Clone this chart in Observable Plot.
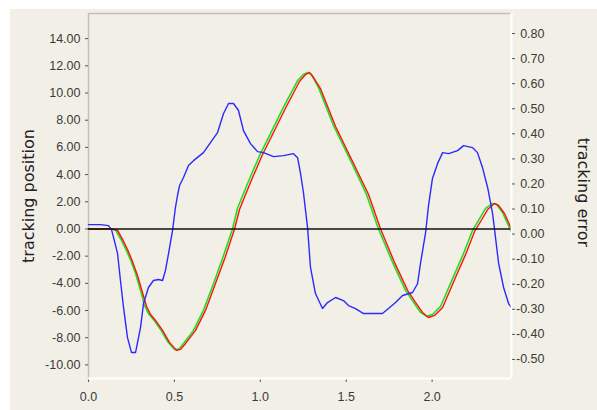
<!DOCTYPE html>
<html>
<head>
<meta charset="utf-8">
<script src="https://cdn.jsdelivr.net/npm/d3@7"></script>
<script src="https://cdn.jsdelivr.net/npm/@observablehq/plot@0.6"></script>
<style>
  html, body { margin: 0; padding: 0; background: #ffffff; }
  #chart { position: absolute; left: 10px; top: 9px; width: 587px; height: 401px; background: #f2efe7; overflow: hidden; }
</style>
</head>
<body>
<div id="chart"></div>
<script>
// ---- tick values ----
const xTicks = [0, 0.5, 1.0, 1.5, 2.0];
const leftTicks = [-10, -8, -6, -4, -2, 0, 2, 4, 6, 8, 10, 12, 14];
const rightTicks = [-0.5, -0.4, -0.3, -0.2, -0.1, 0, 0.1, 0.2, 0.3, 0.4, 0.5, 0.6, 0.7, 0.8];

// ---- reference position (green) ----
const timeRef = [0, 0.128, 0.157, 0.186, 0.215, 0.244, 0.274, 0.303, 0.326, 0.349, 0.378, 0.419, 0.460, 0.501, 0.524, 0.553, 0.611, 0.669, 0.728, 0.786, 0.838, 0.867, 0.902, 0.943, 1.001, 1.059, 1.135, 1.217, 1.251, 1.275, 1.298, 1.339, 1.426, 1.525, 1.618, 1.688, 1.770, 1.845, 1.892, 1.933, 1.968, 2.002, 2.049, 2.125, 2.183, 2.235, 2.270, 2.311, 2.352, 2.375, 2.410, 2.462];
const posRef = [0, 0, -0.07, -0.70, -1.43, -2.24, -3.27, -4.52, -5.62, -6.21, -6.65, -7.39, -8.27, -8.86, -8.86, -8.42, -7.46, -5.99, -4.01, -1.95, 0, 1.51, 2.61, 3.86, 5.55, 7.02, 8.97, 10.92, 11.36, 11.51, 11.36, 10.40, 7.61, 5.04, 2.54, 0, -2.46, -4.52, -5.40, -6.14, -6.43, -6.29, -5.70, -3.49, -1.80, -0.11, 0.63, 1.51, 1.88, 1.80, 1.21, -0.26];

// ---- actual position (red) ----
const timeAct = [0, 0.140, 0.169, 0.198, 0.227, 0.256, 0.285, 0.314, 0.338, 0.361, 0.390, 0.431, 0.471, 0.512, 0.536, 0.565, 0.623, 0.681, 0.739, 0.797, 0.850, 0.879, 0.914, 0.955, 1.013, 1.071, 1.147, 1.228, 1.263, 1.286, 1.310, 1.350, 1.438, 1.537, 1.630, 1.700, 1.781, 1.857, 1.903, 1.944, 1.979, 2.014, 2.061, 2.136, 2.195, 2.247, 2.282, 2.323, 2.363, 2.387, 2.421, 2.462];
const posAct = [0, 0, -0.11, -0.77, -1.51, -2.39, -3.42, -4.67, -5.70, -6.29, -6.73, -7.46, -8.34, -8.93, -8.86, -8.42, -7.46, -5.99, -4.01, -2.02, 0, 1.43, 2.54, 3.79, 5.48, 6.95, 8.90, 10.85, 11.36, 11.51, 11.14, 10.33, 7.54, 4.96, 2.54, 0, -2.46, -4.52, -5.40, -6.14, -6.51, -6.36, -5.77, -3.57, -1.87, -0.18, 0.55, 1.43, 1.88, 1.73, 1.14, 0];

// ---- tracking error (blue, right axis) ----
const timeErr = [0, 0.070, 0.116, 0.134, 0.146, 0.169, 0.186, 0.204, 0.227, 0.250, 0.274, 0.303, 0.320, 0.349, 0.378, 0.407, 0.431, 0.448, 0.466, 0.489, 0.506, 0.518, 0.530, 0.553, 0.582, 0.611, 0.669, 0.710, 0.751, 0.786, 0.815, 0.844, 0.873, 0.902, 0.943, 0.984, 1.019, 1.077, 1.135, 1.193, 1.217, 1.234, 1.251, 1.275, 1.292, 1.321, 1.362, 1.391, 1.438, 1.484, 1.513, 1.554, 1.601, 1.711, 1.746, 1.787, 1.828, 1.886, 1.915, 1.933, 1.962, 1.979, 2.002, 2.032, 2.061, 2.096, 2.148, 2.183, 2.235, 2.264, 2.293, 2.323, 2.352, 2.369, 2.387, 2.416, 2.445, 2.462];
const errVals = [0.038, 0.038, 0.034, 0.018, -0.014, -0.077, -0.185, -0.293, -0.413, -0.472, -0.472, -0.372, -0.277, -0.213, -0.185, -0.181, -0.185, -0.145, -0.077, 0.014, 0.106, 0.154, 0.194, 0.226, 0.274, 0.293, 0.325, 0.365, 0.405, 0.481, 0.521, 0.521, 0.493, 0.413, 0.361, 0.329, 0.325, 0.309, 0.313, 0.321, 0.305, 0.242, 0.166, 0.026, -0.133, -0.237, -0.297, -0.273, -0.253, -0.265, -0.285, -0.297, -0.317, -0.317, -0.297, -0.273, -0.245, -0.233, -0.198, -0.114, 0.006, 0.114, 0.222, 0.282, 0.325, 0.321, 0.333, 0.353, 0.345, 0.325, 0.266, 0.186, 0.082, -0.014, -0.117, -0.213, -0.277, -0.293];

// ---- scales ----
const xDomain = [0, 2.462];
const leftDomain = [-11, 15.85];
const rightDomain = [-0.576, 0.88];
const toLeft = e => leftDomain[0] + (e - rightDomain[0]) / (rightDomain[1] - rightDomain[0]) * (leftDomain[1] - leftDomain[0]);
const rightLabel = new Map(rightTicks.map(t => [toLeft(t), t.toFixed(2)]));

const tickFont = "'Liberation Sans', Arial, sans-serif";
const labelFont = "'DejaVu Sans', Verdana, sans-serif";

const chart = Plot.plot({
  width: 587,
  height: 401,
  marginLeft: 78,
  marginRight: 86,
  marginTop: 4,
  marginBottom: 32,
  style: { background: "transparent", fontFamily: tickFont, fontSize: "12.5px", color: "#3a3a3a", overflow: "visible" },
  x: { domain: xDomain },
  y: { domain: leftDomain },
  marks: [
    Plot.ruleX([xDomain[0]], { stroke: "#c2c0b8", strokeWidth: 1.5 }),
    Plot.ruleY([leftDomain[1]], { stroke: "#c2c0b8", strokeWidth: 1.5 }),
    Plot.line(posRef, { x: timeRef, y: d => d, stroke: "#1ee01e", strokeWidth: 1.6 }),
    Plot.line(posAct, { x: timeAct, y: d => d, stroke: "#ff1010", strokeWidth: 1.4 }),
    Plot.line(errVals, { x: timeErr, y: toLeft, stroke: "#2a2aff", strokeWidth: 1.4 }),
    Plot.ruleY([0], { stroke: "#111111", strokeWidth: 1.5 }),
    Plot.axisX(xTicks, { tickSize: 4, tickPadding: 10, tickFormat: d => d.toFixed(1), label: null, stroke: "#555" }),
    Plot.ruleX([xDomain[1]], { stroke: "#ffffff", strokeWidth: 2 }),
    Plot.ruleY([leftDomain[0]], { stroke: "#ffffff", strokeWidth: 2 }),
    Plot.axisY(leftTicks, { anchor: "left", tickSize: 3, tickPadding: 5, tickFormat: d => d.toFixed(2), label: null, stroke: "#555" }),
    Plot.axisY(rightTicks.map(toLeft), { anchor: "right", tickSize: 3, tickPadding: 30, textAnchor: "end", tickFormat: v => rightLabel.get(v), label: null, stroke: "#555" }),
    Plot.text(["tracking position"], { text: d => d, frameAnchor: "left", textAnchor: "middle", rotate: -90, dx: -60, fontSize: 16, fontFamily: labelFont, fill: "#222" }),
    Plot.text(["tracking error"], { text: d => d, frameAnchor: "right", textAnchor: "middle", rotate: 90, dx: 72, dy: -3.5, fontSize: 16, fontFamily: labelFont, fill: "#222" })
  ]
});
document.getElementById("chart").appendChild(chart);
</script>
</body>
</html>
